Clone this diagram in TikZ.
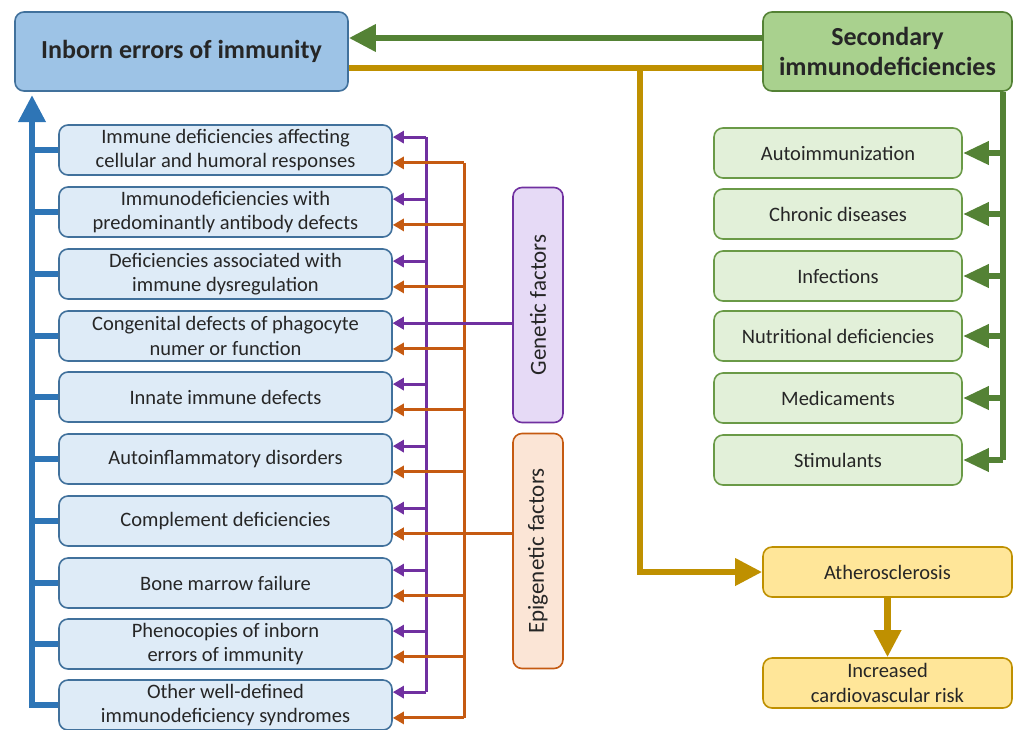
\documentclass[tikz,border=0pt]{standalone}
\usepackage{fontspec}
\setmainfont{Carlito}
\usetikzlibrary{arrows.meta,calc}

\definecolor{iblue}{HTML}{2E75B6}
\definecolor{iblueline}{HTML}{41719C}
\definecolor{ibluefill}{HTML}{9DC3E6}
\definecolor{ilightfill}{HTML}{DEEBF7}
\definecolor{sgreen}{HTML}{548235}
\definecolor{sgreenfill}{HTML}{A9D18E}
\definecolor{slightfill}{HTML}{E2F0D9}
\definecolor{sgreenline}{HTML}{6A9A47}
\definecolor{agold}{HTML}{BF9000}
\definecolor{agoldfill}{HTML}{FFE699}
\definecolor{gpurple}{HTML}{7030A0}
\definecolor{gpurplefill}{HTML}{E6DAF6}
\definecolor{eorange}{HTML}{C55A11}
\definecolor{eorangefill}{HTML}{FBE5D6}
\definecolor{txt}{HTML}{262626}

\begin{document}
\begin{tikzpicture}[x=1pt,y=-1pt,
    box/.style={draw, rounded corners=9pt, line width=1.6pt, align=center, text=txt, inner sep=2pt},
    bigarrow/.style={line width=6.5pt, -{Triangle[length=27pt,width=26pt]}},
    bigline/.style={line width=6.5pt},
    smallarrow/.style={line width=3pt, -{Triangle[length=11pt,width=12pt]}},
    smallline/.style={line width=3pt}]

  \useasboundingbox (0,0) rectangle (1016,729);

  \begin{scope}[every node/.style={box, font=\fontsize{26}{30}\selectfont\bfseries}]
    \node (inb) at (181.5,51.5) [fill=ibluefill, draw=iblueline, minimum width=333, minimum height=79] {Inborn errors of immunity};
    \node (sec) at (887.5,51.5) [fill=sgreenfill, draw=sgreen, minimum width=249, minimum height=79] {Secondary\\immunodeficiencies};
  \end{scope}

  \begin{scope}[every node/.style={box, fill=ilightfill, draw=iblueline, minimum width=333, minimum height=50,
      font=\fontsize{20.5}{24.5}\selectfont}]
    \node (i1)  at (225.5,150) {Immune deficiencies affecting\\cellular and humoral responses};
    \node (i2)  at (225.5,212) {Immunodeficiencies with\\predominantly antibody defects};
    \node (i3)  at (225.5,274) {Deficiencies associated with\\immune dysregulation};
    \node (i4)  at (225.5,336) {Congenital defects of phagocyte\\numer or function};
    \node (i5)  at (225.5,397) {Innate immune defects};
    \node (i6)  at (225.5,459) {Autoinflammatory disorders};
    \node (i7)  at (225.5,521) {Complement deficiencies};
    \node (i8)  at (225.5,583) {Bone marrow failure};
    \node (i9)  at (225.5,644) {Phenocopies of inborn\\errors of immunity};
    \node (i10) at (225.5,705) {Other well-defined\\immunodeficiency syndromes};
  \end{scope}

  \begin{scope}[every node/.style={box, rotate=90, minimum width=235, minimum height=50,
      font=\fontsize{23}{28}\selectfont}]
    \node (gen) at (538,305) [fill=gpurplefill, draw=gpurple] {Genetic factors};
    \node (epi) at (538,551) [fill=eorangefill, draw=eorange] {Epigenetic factors};
  \end{scope}

  \begin{scope}[every node/.style={box, fill=slightfill, draw=sgreenline, minimum width=248, minimum height=50,
      font=\fontsize{20.5}{24.5}\selectfont}]
    \node (s1) at (838,153) {Autoimmunization};
    \node (s2) at (838,214) {Chronic diseases};
    \node (s3) at (838,276) {Infections};
    \node (s4) at (838,336) {Nutritional deficiencies};
    \node (s5) at (838,398) {Medicaments};
    \node (s6) at (838,460) {Stimulants};
  \end{scope}

  \begin{scope}[every node/.style={box, fill=agoldfill, draw=agold, minimum width=249, minimum height=50,
      font=\fontsize{20.5}{24.5}\selectfont}]
    \node (ath) at (887.5,572) {Atherosclerosis};
    \node (inc) at (887.5,683) {Increased\\cardiovascular risk};
  \end{scope}

  \coordinate (bv)  at (32,0);
  \coordinate (btop) at (32,95);
  \coordinate (pv)  at (426,0);
  \coordinate (ov)  at (464,0);
  \coordinate (gv)  at (1003,0);
  \coordinate (yv)  at (640,0);
  \coordinate (ga)  at ([yshift=13.5pt]sec.west);
  \coordinate (ya)  at ([yshift=-16.5pt]sec.west);

  % primary side
  \draw[bigarrow, iblue] (i10.west) -| (btop);
  \foreach \n in {1,...,9}
    \draw[bigline, iblue] (i\n.west) -- (i\n.west -| bv);

  \foreach \n in {1,...,10} {
    \coordinate (p\n) at ($(i\n.north east)!.25!(i\n.south east)$);
    \coordinate (o\n) at ($(i\n.north east)!.75!(i\n.south east)$);
  }
  \draw[smallline, gpurple] (p1 -| pv) -- (p10 -| pv);
  \draw[smallline, eorange] (o1 -| ov) -- (o10 -| ov);
  \foreach \n in {1,...,10} {
    \draw[smallarrow, gpurple] (p\n -| pv) -- (p\n);
    \draw[smallarrow, eorange] (o\n -| ov) -- (o\n);
  }
  \draw[smallarrow, gpurple] (gen.north |- p4) -- (p4);
  \draw[smallarrow, eorange] (epi.north |- o7) -- (o7);

  % secondary side
  \draw[bigarrow, sgreen] (ga) -- (ga -| inb.east);
  \draw[bigline, agold] (ya) -- (ya -| inb.east);
  \draw[bigarrow, agold] (ya -| yv) |- (ath.west);
  \draw[bigarrow, agold] (ath.south) -- (inc.north);

  \draw[bigline, sgreen] (sec.south -| gv) -- (s6.east -| gv);
  \foreach \n in {1,...,6}
    \draw[line width=6.5pt, sgreen, -{Triangle[length=26pt,width=22pt]}] (s\n.east -| gv) -- (s\n.east);

\end{tikzpicture}
\end{document}
